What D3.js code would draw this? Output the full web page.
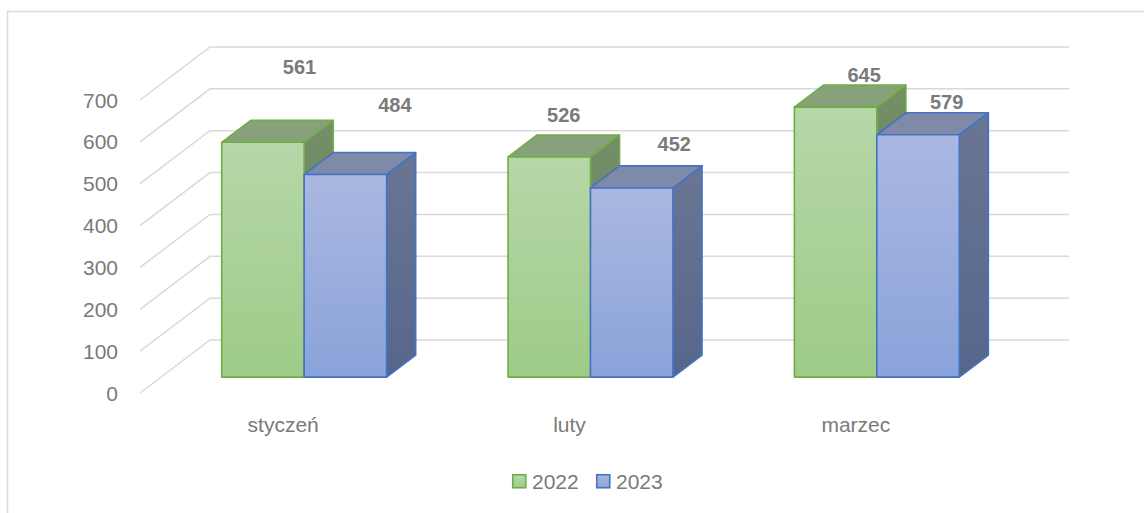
<!DOCTYPE html>
<html>
<head>
<meta charset="utf-8">
<script src="https://cdn.jsdelivr.net/npm/d3@7"></script>
<style>
  html, body { margin: 0; padding: 0; background: #fff; }
  svg { display: block; font-family: "Liberation Sans", Arial, sans-serif; }
</style>
</head>
<body>
<div id="container"></div>
<script>
const categories = ["styczeń", "luty", "marzec"];
const seriesNames = ["2022", "2023"];
const values2022 = [561, 526, 645];
const values2023 = [484, 452, 579];
const yTicks = [0, 100, 200, 300, 400, 500, 600, 700];

const width = 1144;
const height = 513;

// oblique 3D: depth 0..1 moves right by DX and up by DY
const DX = 70;
const DY = 53;
const floorLeft = 140;
const floorRight = 999;
const barDepth = [0.30, 0.715];
const textColor = "#7a7a7a";

const series = [
    { name: seriesNames[0], values: values2022, stroke: "#70ad47",
      front: ["#b6d7a8", "#9ecb88"], top: "#87a27a", side: ["#748f67", "#66825a"] },
    { name: seriesNames[1], values: values2023, stroke: "#4472c4",
      front: ["#aab8e1", "#8aa3da"], top: "#7f8aa8", side: ["#6a7693", "#56668b"] }
];

// nudges for the data labels, relative to the centre of each bar's top face
const labelNudge = [
    [[22, -57], [0, -24], [14, -14]],
    [[35, -52], [28, -26], [14, -15]]
];

const svg = d3.select("#container").append("svg")
    .attr("width", width)
    .attr("height", height);

const defs = svg.append("defs");
series.forEach((s, i) => {
    const g1 = defs.append("linearGradient").attr("id", "front" + i)
        .attr("x1", 0).attr("y1", 0).attr("x2", 0).attr("y2", 1);
    g1.append("stop").attr("offset", "0%").attr("stop-color", s.front[0]);
    g1.append("stop").attr("offset", "100%").attr("stop-color", s.front[1]);
    const g2 = defs.append("linearGradient").attr("id", "side" + i)
        .attr("x1", 0).attr("y1", 0).attr("x2", 0).attr("y2", 1);
    g2.append("stop").attr("offset", "0%").attr("stop-color", s.side[0]);
    g2.append("stop").attr("offset", "100%").attr("stop-color", s.side[1]);
});

// chart area border
svg.append("rect")
    .attr("x", 7.5).attr("y", 11.5)
    .attr("width", 1160).attr("height", 520)
    .attr("fill", "none")
    .attr("stroke", "#d9d9d9")
    .attr("stroke-width", 1.5);

const x = d3.scaleBand()
    .domain(categories)
    .range([floorLeft, floorRight]);

const y = d3.scaleLinear()
    .domain([0, 700])
    .range([393, 100]);

const proj = (px, v, d) => [px + d * DX, y(v) - d * DY];

// gridlines: side wall diagonals + back wall
const grid = svg.append("g")
    .attr("stroke", "#d9d9d9")
    .attr("stroke-width", 1.5)
    .attr("fill", "none");

grid.selectAll("path")
    .data(yTicks)
    .join("path")
    .attr("d", t => {
        const a = proj(floorLeft, t, 0);
        const b = proj(floorLeft, t, 1);
        const c = proj(floorRight, t, 1);
        return d3.line()([a, b, c]);
    });

svg.append("g")
    .selectAll("text")
    .data(yTicks)
    .join("text")
    .attr("x", floorLeft - 22)
    .attr("y", t => y(t))
    .attr("dy", "0.36em")
    .attr("text-anchor", "end")
    .attr("fill", textColor)
    .attr("font-size", 21)
    .text(t => t);

// bars
const barW = x.bandwidth() * 0.288;
const gap = (x.bandwidth() - 2 * barW) / 2;
const [d0, d1] = barDepth;

const bars = svg.append("g");
const labels = [];

categories.forEach((cat, ci) => {
    series.forEach((s, si) => {
        const v = s.values[ci];
        const xl = x(cat) + gap + si * barW;
        const xr = xl + barW;
        const g = bars.append("g")
            .attr("stroke", s.stroke)
            .attr("stroke-width", 1.6)
            .attr("stroke-linejoin", "round");

        // right side face
        g.append("path")
            .attr("fill", `url(#side${si})`)
            .attr("d", d3.line()([
                proj(xr, 0, d0), proj(xr, 0, d1), proj(xr, v, d1), proj(xr, v, d0)
            ]) + "Z");

        // top face
        g.append("path")
            .attr("fill", s.top)
            .attr("d", d3.line()([
                proj(xl, v, d0), proj(xl, v, d1), proj(xr, v, d1), proj(xr, v, d0)
            ]) + "Z");

        // front face
        const tl = proj(xl, v, d0);
        const br = proj(xr, 0, d0);
        g.append("rect")
            .attr("x", tl[0]).attr("y", tl[1])
            .attr("width", br[0] - tl[0])
            .attr("height", br[1] - tl[1])
            .attr("fill", `url(#front${si})`);

        const c = proj((xl + xr) / 2, v, (d0 + d1) / 2);
        const n = labelNudge[si][ci];
        labels.push({ x: c[0] + n[0], y: c[1] + n[1], text: v });
    });
});

svg.append("g")
    .selectAll("text")
    .data(labels)
    .join("text")
    .attr("x", d => d.x)
    .attr("y", d => d.y)
    .attr("text-anchor", "middle")
    .attr("font-size", 20)
    .attr("font-weight", "bold")
    .attr("fill", textColor)
    .text(d => d.text);

// category labels along the front floor edge
svg.append("g")
    .selectAll("text")
    .data(categories)
    .join("text")
    .attr("x", d => x(d) + x.bandwidth() / 2)
    .attr("y", 432)
    .attr("text-anchor", "middle")
    .attr("fill", textColor)
    .attr("font-size", 21)
    .text(d => d);

// legend
const legend = svg.append("g")
    .attr("transform", "translate(512,474)");

const item = legend.selectAll("g")
    .data(series)
    .join("g")
    .attr("transform", (d, i) => `translate(${i * 84},0)`);

item.append("rect")
    .attr("x", 0.75).attr("y", 0.75)
    .attr("width", 13).attr("height", 13)
    .attr("fill", (d, i) => `url(#front${i})`)
    .attr("stroke", d => d.stroke)
    .attr("stroke-width", 1.6);

item.append("text")
    .attr("x", 20)
    .attr("y", 7.5)
    .attr("dy", "0.36em")
    .attr("fill", textColor)
    .attr("font-size", 21)
    .text(d => d.name);
</script>
</body>
</html>
